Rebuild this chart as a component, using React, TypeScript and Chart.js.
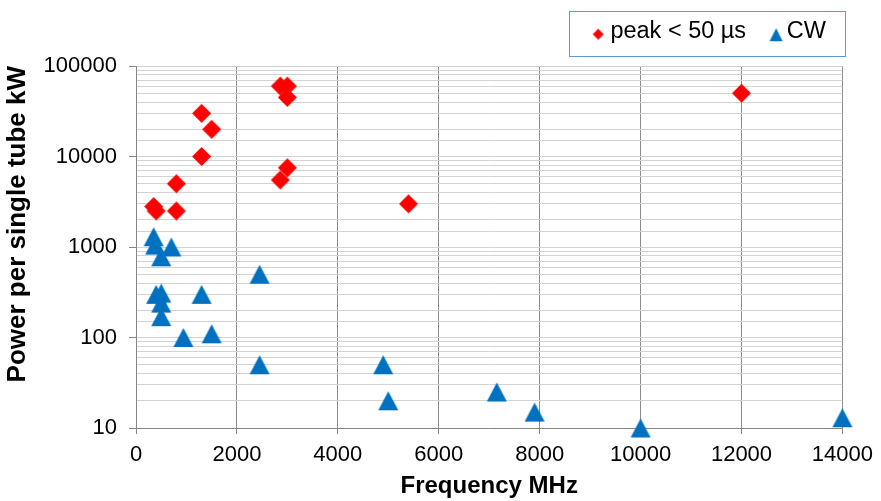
import React, { useEffect, useRef } from 'react';
import { Chart, registerables } from 'chart.js';

Chart.register(...registerables);

// ---- data ----
const seriesNames = ['peak < 50 µs', 'CW'];
const peakFreq = [1300, 1500, 1300, 800, 350, 400, 800, 2860, 3000, 3000, 3000, 2860, 5400, 12000];
const peakPower = [30000, 20000, 10000, 5000, 2800, 2500, 2500, 60000, 60000, 45000, 7500, 5500, 3000, 50000];
const cwFreq = [350, 380, 700, 500, 400, 500, 500, 500, 1300, 940, 1500, 2450, 2450, 4900, 5000, 7150, 7900, 10000, 14000];
const cwPower = [1300, 1050, 1000, 780, 300, 310, 240, 170, 300, 100, 110, 500, 50, 50, 20, 25, 15, 10, 13];
const xTickValues = [0, 2000, 4000, 6000, 8000, 10000, 12000, 14000];
const yTickValues = [10, 100, 1000, 10000, 100000];
const xTitle = 'Frequency MHz';
const yTitle = 'Power per single tube kW';

const RED = '#FF0000';
const BLUE = '#0070C0';
const FONT = "'Liberation Sans', Arial, Helvetica, sans-serif";

function makeMarker(shape: 'diamond' | 'triangle', w: number, h: number, color: string, dx = 0, dy = 0) {
  const cw = Math.ceil(w + 2 * Math.abs(dx) + 2);
  const ch = Math.ceil(h + 2 * Math.abs(dy) + 2);
  const c = document.createElement('canvas');
  c.width = cw;
  c.height = ch;
  const g = c.getContext('2d')!;
  const cx = cw / 2 + dx;
  const cy = ch / 2 + dy;
  g.fillStyle = color;
  g.beginPath();
  if (shape === 'diamond') {
    g.moveTo(cx, cy - h / 2);
    g.lineTo(cx + w / 2, cy);
    g.lineTo(cx, cy + h / 2);
    g.lineTo(cx - w / 2, cy);
  } else {
    g.moveTo(cx, cy - h / 2);
    g.lineTo(cx + w / 2, cy + h / 2);
    g.lineTo(cx - w / 2, cy + h / 2);
  }
  g.closePath();
  g.fill();
  return c;
}

const legendBorder = {
  id: 'legendBorder',
  afterDraw(chart: any) {
    const lg = chart.legend;
    if (!lg || !lg.legendHitBoxes || !lg.legendHitBoxes.length) return;
    const hb = lg.legendHitBoxes;
    const first = hb[0];
    const last = hb[hb.length - 1];
    const left = Math.round(first.left - 21) + 0.5;
    const right = Math.round(last.left + last.width + 19) + 0.5;
    const top = Math.round(first.top - 9) + 0.5;
    const bottom = Math.round(first.top + 36) + 0.5;
    const ctx = chart.ctx;
    ctx.save();
    ctx.strokeStyle = '#5B9BD5';
    ctx.lineWidth = 1;
    ctx.strokeRect(left, top, right - left, bottom - top);
    ctx.restore();
  },
};

export default function App() {
  const ref = useRef<HTMLCanvasElement>(null);

  useEffect(() => {
    if (!ref.current) return;
    const diamond = makeMarker('diamond', 19, 19, RED);
    const triangle = makeMarker('triangle', 20, 19, BLUE);
    const legDiamond = makeMarker('diamond', 11, 11, RED, 4, 2.5);
    const legTriangle = makeMarker('triangle', 13, 13, BLUE, 5.5, 3);

    const chart = new Chart(ref.current, {
      type: 'scatter',
      data: {
        datasets: [
          {
            label: seriesNames[0],
            data: peakFreq.map((x, i) => ({ x, y: peakPower[i] })),
            pointStyle: diamond as any,
            backgroundColor: RED,
            borderColor: RED,
            pointRadius: 10,
            clip: false as any,
          },
          {
            label: seriesNames[1],
            data: cwFreq.map((x, i) => ({ x, y: cwPower[i] })),
            pointStyle: triangle as any,
            backgroundColor: BLUE,
            borderColor: BLUE,
            pointRadius: 10,
            clip: false as any,
          },
        ],
      },
      options: {
        animation: false,
        responsive: true,
        maintainAspectRatio: false,
        layout: { padding: { top: 0, right: 35, bottom: 0, left: 0 } },
        plugins: {
          tooltip: { enabled: false },
          legend: {
            display: true,
            position: 'top',
            align: 'end',
            labels: {
              usePointStyle: true,
              boxWidth: 9,
              padding: 20,
              color: '#000000',
              font: { family: FONT, size: 23.5 },
              generateLabels: (c: any) => {
                const items = (Chart.defaults.plugins.legend.labels as any).generateLabels(c);
                items.forEach((it: any, i: number) => {
                  it.pointStyle = i === 0 ? legDiamond : legTriangle;
                });
                return items;
              },
            },
          },
          title: {
            display: true,
            text: '',
            position: 'top',
            weight: 500,
            font: { size: 12.5, lineHeight: 1 },
            padding: 0,
          } as any,
        },
        scales: {
          x: {
            type: 'linear',
            position: 'bottom',
            min: 0,
            max: 14000,
            z: 0,
            afterFit: (s: any) => { s.height = 73; },
            afterBuildTicks: (s: any) => { s.ticks = xTickValues.map((v) => ({ value: v })); },
            ticks: {
              color: '#000000',
              font: { family: FONT, size: 22 },
              padding: 8,
              maxRotation: 0,
              autoSkip: false,
              callback: (v: any) => String(v),
            },
            grid: {
              color: '#8c8c8c',
              lineWidth: 1,
              tickLength: 6,
              tickColor: '#868686',
            },
            border: { color: '#868686', width: 1 },
            title: {
              display: true,
              text: xTitle,
              color: '#000000',
              font: { family: FONT, size: 24, weight: 'bold' },
              padding: { top: 0, bottom: 0 },
            },
          },
          y: {
            type: 'logarithmic',
            position: 'left',
            min: 10,
            max: 100000,
            z: -1,
            afterFit: (s: any) => { s.width = 136; },
            ticks: {
              color: '#000000',
              font: { family: FONT, size: 22 },
              padding: 12,
              autoSkip: false,
              callback: (v: any) => (yTickValues.includes(Number(v)) ? String(v) : ''),
            },
            grid: {
              color: '#d3d3d3',
              lineWidth: 1,
              tickLength: 7,
              tickColor: (ctx: any) =>
                ctx.tick && yTickValues.includes(Number(ctx.tick.value)) ? '#868686' : 'rgba(0,0,0,0)',
            },
            border: { color: '#868686', width: 1 },
            title: {
              display: true,
              text: yTitle,
              align: 'end',
              color: '#000000',
              font: { family: FONT, size: 26, weight: 'bold' },
              padding: { top: 2, bottom: 0 },
            },
          },
        },
      } as any,
      plugins: [legendBorder],
    });
    return () => chart.destroy();
  }, []);

  return (
    <div style={{ position: 'fixed', left: 0, top: 0, width: 881, height: 501, background: '#ffffff' }}>
      <canvas ref={ref} />
    </div>
  );
}
